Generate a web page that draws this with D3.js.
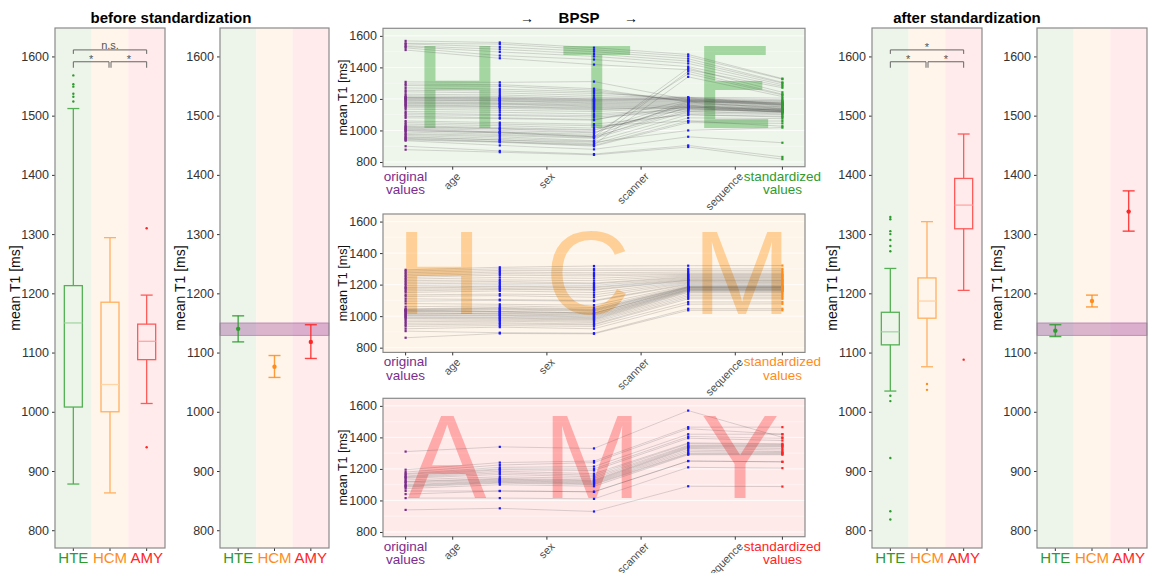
<!DOCTYPE html>
<html>
<head>
<meta charset="utf-8">
<script src="https://d3js.org/d3.v7.min.js"></script>
<style>
  body { margin: 0; background: #fff; }
  svg text { font-family: "Liberation Sans", Arial, sans-serif; }
</style>
</head>
<body>
<svg width="1149" height="573"></svg>
<script>
  // ---- data ----
  var groups = ["HTE", "HCM", "AMY"];
  var yTicks = [800, 900, 1000, 1100, 1200, 1300, 1400, 1500, 1600];
  var yTicksMid = [800, 1000, 1200, 1400, 1600];

  // box stats: [whisker low, q1, median, q3, whisker high]
  var beforeBox = [[878, 1008, 1150, 1213, 1512], [863, 1000, 1046, 1185, 1294], [1014, 1088, 1119, 1148, 1197]];
  var beforeOutliers = [[1524, 1532, 1537, 1549, 1553, 1568], [], [940, 1310]];
  var afterBox = [[1035, 1113, 1135, 1168, 1242], [1076, 1158, 1187, 1226, 1321], [1205, 1309, 1349, 1394, 1469]];
  var afterOutliers = [[818, 832, 922, 1018, 1027, 1271, 1280, 1290, 1300, 1305, 1325, 1329], [1037, 1047], [1088]];

  // mean with CI: [low, mean, high]
  var beforeMeans = [[1118, 1140, 1162], [1058, 1076, 1095], [1090, 1118, 1147]];
  var afterMeans = [[1127, 1137, 1147], [1177, 1187, 1197], [1305, 1338, 1373]];
  var refBand = [1129, 1150];

  var sigPairs = [[0, 1], [1, 2], [0, 2]];
  var sigBefore = ["*", "*", "n.s."];
  var sigAfter = ["*", "*", "*"];
  var sigLevels = [1591, 1591, 1611];

  var stepNames = ["age", "sex", "scanner", "sequence"];
  var stepPos = [1, 3, 5, 7];
  var valuePos = [0, 2, 4, 6, 8];

  // each row: original, after age, after sex, after scanner, standardized
  var hteRows = [
    [1568,1558,1525,1482,1329],[1553,1548,1512,1470,1325],[1549,1530,1500,1455,1305],
    [1537,1515,1485,1440,1300],[1532,1498,1470,1425,1290],[1524,1475,1450,1405,1280],
    [1510,1458,1418,1385,1271],[1000,985,960,1395,1242],[975,960,935,1375,1230],
    [1010,990,975,1360,1225],[950,930,910,1340,1215],[878,862,845,895,818],
    [900,870,850,905,832],[935,905,880,960,922],[960,940,925,1000,1018],
    [1050,1040,1030,1060,1027],[990,975,955,1150,1118],[980,968,950,1120,1105],
    [968,950,930,1100,1090],[955,940,915,1080,1075],[945,928,905,1060,1060],
    [1005,990,965,1180,1140],[998,985,960,1130,1120],[940,925,900,1050,1045],
    [1015,1000,985,1170,1150],[1020,1010,990,1160,1125],[1025,1012,1000,1185,1160],
    [1030,1018,1005,1140,1115],[1040,1030,1015,1110,1100],[1060,1050,1040,1100,1085],
    [1080,1075,1065,1190,1165],[1090,1080,1070,1150,1128],[1100,1095,1085,1120,1112],
    [1110,1100,1095,1130,1122],[1120,1115,1105,1135,1130],[1135,1128,1120,1145,1133],
    [1145,1140,1130,1155,1138],[1152,1148,1135,1140,1116],[1158,1152,1140,1145,1120],
    [1162,1155,1145,1150,1125],[1168,1165,1150,1155,1128],[1172,1168,1155,1160,1132],
    [1178,1172,1160,1165,1136],[1182,1176,1165,1170,1140],[1188,1185,1170,1175,1145],
    [1192,1188,1175,1180,1150],[1196,1190,1180,1185,1155],[1200,1196,1185,1190,1160],
    [1204,1198,1188,1195,1162],[1207,1203,1192,1200,1165],[1210,1205,1195,1205,1167],
    [1212,1208,1200,1210,1170],[1220,1215,1200,1195,1175],[1230,1225,1210,1200,1185],
    [1245,1238,1222,1205,1195],[1255,1250,1235,1210,1205],[1270,1262,1245,1190,1180],
    [1285,1280,1255,1185,1178],[1295,1290,1265,1180,1172],[1308,1305,1310,1195,1190]
  ];
  var hcmRows = [
    [863,890,888,1037,1037],[905,895,892,1047,1047],[920,930,920,1076,1078],
    [935,940,935,1090,1090],[945,950,945,1110,1110],[955,958,950,1120,1120],
    [965,968,960,1130,1130],[975,975,968,1140,1140],[985,982,975,1150,1150],
    [990,988,980,1155,1155],[995,992,985,1160,1160],[1002,1000,990,1162,1162],
    [1005,1008,1000,1165,1165],[1010,1005,995,1168,1168],[1015,1018,1010,1170,1170],
    [1020,1015,1005,1172,1172],[1025,1030,1020,1175,1175],[1030,1025,1015,1178,1178],
    [1033,1040,1030,1180,1180],[1036,1030,1020,1182,1182],[1040,1045,1035,1184,1184],
    [1043,1050,1040,1186,1186],[1046,1055,1045,1187,1187],[1060,1065,1055,1190,1190],
    [1080,1075,1070,1195,1194],[1095,1100,1095,1200,1198],[1110,1105,1100,1205,1203],
    [1125,1130,1120,1210,1208],[1135,1140,1135,1215,1213],[1150,1160,1150,1220,1218],
    [1160,1170,1165,1225,1222],[1170,1175,1170,1228,1226],[1178,1185,1180,1230,1229],
    [1184,1190,1185,1235,1234],[1195,1200,1195,1240,1240],[1205,1210,1205,1245,1245],
    [1215,1220,1210,1250,1250],[1225,1230,1225,1255,1255],[1235,1245,1240,1260,1260],
    [1245,1260,1255,1265,1265],[1255,1270,1265,1270,1270],[1265,1280,1275,1280,1280],
    [1275,1290,1290,1290,1290],[1285,1300,1300,1300,1300],[1294,1310,1318,1320,1321]
  ];
  var amyRows = [
    [1310,1340,1330,1570,1400],[1195,1240,1250,1465,1465],[1180,1225,1240,1455,1420],
    [1170,1210,1215,1420,1420],[1165,1200,1200,1405,1395],[1155,1195,1190,1395,1380],
    [1150,1185,1170,1365,1360],[1145,1175,1160,1360,1355],[1140,1165,1150,1350,1350],
    [1130,1150,1140,1345,1345],[1120,1140,1130,1340,1340],[1118,1135,1125,1335,1330],
    [1110,1130,1120,1330,1320],[1100,1125,1115,1320,1310],[1095,1120,1110,1310,1305],
    [1090,1115,1105,1300,1300],[1085,1110,1100,1295,1295],[1075,1100,1090,1290,1290],
    [1060,1060,1055,1250,1245],[1040,1060,1055,1250,1245],[1015,1015,1010,1210,1205],
    [940,950,930,1090,1088]
  ];
  var letterSets = [["H", "T", "E"], ["H", "C", "M"], ["A", "M", "Y"]];
  var letterPos = [[1.1, 4.06, 6.97], [0.71, 3.87, 7.14], [0.88, 3.96, 7.1]];

  // ---- styles ----
  var textCol = ["#2e9b2e", "#ff8c1a", "#ff2525"];
  var boxCol = ["#55b055", "#ffb060", "#ff5a5a"];
  var medCol = ["#a5d6a5", "#ffd4a6", "#ffa6a6"];
  var bandFill = ["#edf5ea", "#fff5ea", "#ffebeb"];
  var purple = "#7b2d8b";
  var yDomain = [770, 1648];
  var fmt = d3.format("d");

  var svg = d3.select("svg");
  var sideTop = 28, sideBottom = 548;
  var ySide = d3.scaleLinear().domain(yDomain).range([sideBottom, sideTop]);

  function styleAxis(ax) {
    ax.attr("font-family", null);
    ax.select(".domain").remove();
    ax.selectAll("text").attr("font-size", 12.5).attr("fill", "#333");
    ax.selectAll("line").attr("stroke", "#333");
  }

  function sidePanel(x0, x1) {
    var x = d3.scaleBand().domain(groups).range([x0, x1]);
    var g = svg.append("g");
    g.selectAll("rect.band").data(groups).enter().append("rect")
      .attr("x", function(d) { return x(d); })
      .attr("y", sideTop)
      .attr("width", x.bandwidth())
      .attr("height", sideBottom - sideTop)
      .attr("fill", function(d, i) { return bandFill[i]; });

    var ax = g.append("g").attr("transform", "translate(" + x0 + ",0)")
      .call(d3.axisLeft(ySide).tickValues(yTicks).tickFormat(fmt).tickSize(3).tickPadding(3));
    styleAxis(ax);

    g.selectAll("line.xt").data(groups).enter().append("line")
      .attr("x1", function(d) { return x(d) + x.bandwidth() / 2; })
      .attr("x2", function(d) { return x(d) + x.bandwidth() / 2; })
      .attr("y1", sideBottom).attr("y2", sideBottom + 3).attr("stroke", "#333");
    g.selectAll("text.grp").data(groups).enter().append("text")
      .attr("x", function(d) { return x(d) + x.bandwidth() / 2; })
      .attr("y", 563)
      .attr("text-anchor", "middle")
      .attr("font-size", 15)
      .attr("fill", function(d, i) { return textCol[i]; })
      .text(function(d) { return d; });

    g.append("text")
      .attr("transform", "translate(" + (x0 - 35) + "," + ((sideTop + sideBottom) / 2) + ") rotate(-90)")
      .attr("text-anchor", "middle")
      .attr("font-size", 14)
      .attr("fill", "#111")
      .text("mean T1 [ms]");
    return { g: g, x: x, x0: x0, x1: x1 };
  }

  function frame(p) {
    p.g.append("rect").attr("x", p.x0).attr("y", sideTop)
      .attr("width", p.x1 - p.x0).attr("height", sideBottom - sideTop)
      .attr("fill", "none").attr("stroke", "#8a8a8a").attr("stroke-width", 1.2);
  }

  function drawBoxes(p, stats, outliers) {
    var bw = 18, cw = 10;
    stats.forEach(function(s, i) {
      var cx = p.x(groups[i]) + p.x.bandwidth() / 2;
      var b = p.g.append("g").attr("stroke", boxCol[i]).attr("stroke-width", 1.3).attr("fill", "none");
      b.append("line").attr("x1", cx).attr("x2", cx).attr("y1", ySide(s[0])).attr("y2", ySide(s[1]));
      b.append("line").attr("x1", cx).attr("x2", cx).attr("y1", ySide(s[3])).attr("y2", ySide(s[4]));
      b.append("line").attr("x1", cx - cw / 2 - 1).attr("x2", cx + cw / 2 + 1).attr("y1", ySide(s[0])).attr("y2", ySide(s[0]));
      b.append("line").attr("x1", cx - cw / 2 - 1).attr("x2", cx + cw / 2 + 1).attr("y1", ySide(s[4])).attr("y2", ySide(s[4]));
      b.append("rect").attr("x", cx - bw / 2).attr("width", bw)
        .attr("y", ySide(s[3])).attr("height", ySide(s[1]) - ySide(s[3]));
      b.append("line").attr("x1", cx - bw / 2).attr("x2", cx + bw / 2)
        .attr("y1", ySide(s[2])).attr("y2", ySide(s[2])).attr("stroke", medCol[i]);
      p.g.selectAll(null).data(outliers[i]).enter().append("circle")
        .attr("cx", cx).attr("cy", function(d) { return ySide(d); })
        .attr("r", 1.2).attr("fill", textCol[i]);
    });
  }

  function drawMeans(p, means) {
    p.g.append("rect").attr("x", p.x0).attr("width", p.x1 - p.x0)
      .attr("y", ySide(refBand[1])).attr("height", ySide(refBand[0]) - ySide(refBand[1]))
      .attr("fill", "#8b2f8b").attr("fill-opacity", 0.32)
      .attr("stroke", "#8b2f8b").attr("stroke-opacity", 0.5).attr("stroke-width", 0.8);
    means.forEach(function(m, i) {
      var cx = p.x(groups[i]) + p.x.bandwidth() / 2;
      var e = p.g.append("g").attr("stroke", textCol[i]).attr("stroke-width", 1.4).attr("stroke-opacity", 0.85);
      e.append("line").attr("x1", cx).attr("x2", cx).attr("y1", ySide(m[0])).attr("y2", ySide(m[2]));
      e.append("line").attr("x1", cx - 6).attr("x2", cx + 6).attr("y1", ySide(m[0])).attr("y2", ySide(m[0]));
      e.append("line").attr("x1", cx - 6).attr("x2", cx + 6).attr("y1", ySide(m[2])).attr("y2", ySide(m[2]));
      p.g.append("circle").attr("cx", cx).attr("cy", ySide(m[1])).attr("r", 2.2).attr("fill", textCol[i]);
    });
  }

  function drawBrackets(p, labels) {
    sigPairs.forEach(function(pr, k) {
      var xa = p.x(groups[pr[0]]) + p.x.bandwidth() / 2;
      var xb = p.x(groups[pr[1]]) + p.x.bandwidth() / 2;
      if (k === 0) xb -= 1;
      if (k === 1) xa += 1;
      var yl = ySide(sigLevels[k]);
      var tick = k === 2 ? 4 : 6;
      p.g.append("path")
        .attr("d", "M" + xa + "," + (yl + tick) + "V" + yl + "H" + xb + "V" + (yl + tick))
        .attr("fill", "none").attr("stroke", "#666").attr("stroke-width", 1);
      p.g.append("text").attr("x", (xa + xb) / 2).attr("y", labels[k] === "*" ? yl + 1 : yl - 1)
        .attr("text-anchor", "middle").attr("font-size", 11)
        .attr("fill", "#555").text(labels[k]);
    });
  }

  // before panels
  var p1 = sidePanel(55, 165);
  drawBoxes(p1, beforeBox, beforeOutliers);
  drawBrackets(p1, sigBefore);
  frame(p1);

  var p2 = sidePanel(220, 329);
  drawMeans(p2, beforeMeans);
  frame(p2);

  // after panels
  var p3 = sidePanel(872, 982);
  drawBoxes(p3, afterBox, afterOutliers);
  drawBrackets(p3, sigAfter);
  frame(p3);

  var p4 = sidePanel(1037, 1147);
  drawMeans(p4, afterMeans);
  frame(p4);

  // middle panels
  var xMid = d3.scaleLinear().domain([-0.48, 8.48]).range([383, 805]);
  var midTops = [28.3, 214, 398.3], midH = 138.4;
  var midBg = ["#eef5ea", "#fef5ea", "#ffeaea"];
  var letterFill = ["#22a022", "#ff8c00", "#ff0000"];
  var letterAlpha = [0.36, 0.35, 0.27];
  var allRows = [hteRows, hcmRows, amyRows];

  midTops.forEach(function(top, gi) {
    var bottom = top + midH;
    var y = d3.scaleLinear().domain(yDomain).range([bottom, top]);
    var g = svg.append("g");
    g.append("rect").attr("x", 383).attr("y", top).attr("width", 422).attr("height", midH).attr("fill", midBg[gi]);
    g.selectAll("line.grid").data(d3.range(800, 1601, 100)).enter().append("line")
      .attr("x1", 383).attr("x2", 805)
      .attr("y1", function(d) { return y(d); }).attr("y2", function(d) { return y(d); })
      .attr("stroke", "#fff").attr("stroke-width", function(d) { return d % 200 === 0 ? 1 : 0.5; })
      .attr("stroke-opacity", 0.8);

    g.selectAll("text.big").data(letterSets[gi]).enter().append("text")
      .attr("x", function(d, i) { return xMid(letterPos[gi][i]); })
      .attr("y", y(1015))
      .attr("text-anchor", "middle")
      .attr("font-size", 118)
      .attr("fill", letterFill[gi]).attr("fill-opacity", letterAlpha[gi])
      .text(function(d) { return d; });

    var line = d3.line().x(function(d, i) { return xMid(valuePos[i]); }).y(function(d) { return y(d); });
    g.selectAll("path.traj").data(allRows[gi]).enter().append("path")
      .attr("d", line).attr("fill", "none")
      .attr("stroke", "#3a3a3a").attr("stroke-opacity", 0.3).attr("stroke-width", 0.6);

    valuePos.forEach(function(pos, si) {
      var col = si === 0 ? purple : (si === 4 ? textCol[gi] : "#1a1aff");
      g.selectAll(null).data(allRows[gi]).enter().append("rect")
        .attr("x", xMid(pos) - 1.1).attr("y", function(d) { return y(d[si]) - 1.1; })
        .attr("width", 2.2).attr("height", 2.2).attr("fill", col);
    });

    var ax = g.append("g").attr("transform", "translate(383,0)")
      .call(d3.axisLeft(y).tickValues(yTicksMid).tickFormat(fmt).tickSize(3).tickPadding(3));
    styleAxis(ax);

    g.append("rect").attr("x", 383).attr("y", top).attr("width", 422).attr("height", midH)
      .attr("fill", "none").attr("stroke", "#8a8a8a").attr("stroke-width", 1.2);

    g.selectAll("line.xt").data([0].concat(stepPos, [8])).enter().append("line")
      .attr("x1", function(d) { return xMid(d); }).attr("x2", function(d) { return xMid(d); })
      .attr("y1", bottom).attr("y2", bottom + 3).attr("stroke", "#333");

    g.selectAll("text.step").data(stepNames).enter().append("text")
      .attr("transform", function(d, i) { return "translate(" + (xMid(stepPos[i]) + 3) + "," + (bottom + 5) + ") rotate(-45)"; })
      .attr("text-anchor", "end").attr("dy", "0.7em")
      .attr("font-size", 11).attr("fill", "#4d4d4d")
      .text(function(d) { return d; });

    var lab = [["original", "values", purple, 0], ["standardized", "values", textCol[gi], 8]];
    lab.forEach(function(l) {
      var t = g.append("text").attr("text-anchor", "middle").attr("font-size", 13.5).attr("fill", l[2]);
      t.append("tspan").attr("x", xMid(l[3])).attr("y", bottom + 14).text(l[0]);
      t.append("tspan").attr("x", xMid(l[3])).attr("y", bottom + 27.5).text(l[1]);
    });

    g.append("text")
      .attr("transform", "translate(347," + (top + midH / 2) + ") rotate(-90)")
      .attr("text-anchor", "middle").attr("font-size", 12.5).attr("fill", "#111")
      .text("mean T1 [ms]");
  });

  // titles
  svg.append("text").attr("x", 171).attr("y", 23).attr("text-anchor", "middle")
    .attr("font-size", 15).attr("font-weight", "bold").text("before standardization");
  svg.append("text").attr("x", 967).attr("y", 23).attr("text-anchor", "middle")
    .attr("font-size", 15).attr("font-weight", "bold").text("after standardization");
  svg.append("text").attr("x", 579).attr("y", 23).attr("text-anchor", "middle")
    .attr("font-size", 15).attr("font-weight", "bold").text("BPSP");
  [527, 631].forEach(function(ax) {
    svg.append("text").attr("x", ax).attr("y", 23).attr("text-anchor", "middle")
      .attr("font-size", 14).text("\u2192");
  });
</script>
</body>
</html>
